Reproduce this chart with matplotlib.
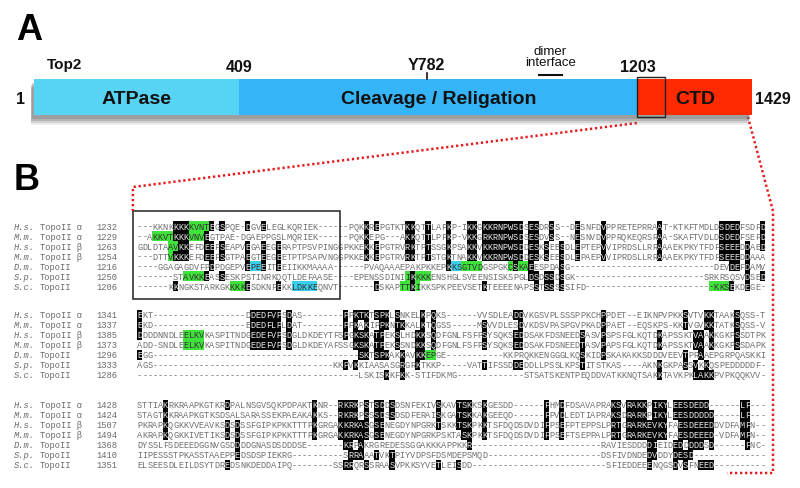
import matplotlib
matplotlib.use("Agg")
from collections import Counter

import matplotlib.pyplot as plt
from matplotlib.patches import Rectangle
from matplotlib.transforms import offset_copy

SANS = ["Liberation Sans", "DejaVu Sans"]
MONO = ["Liberation Mono", "DejaVu Sans Mono"]

# ---- Panel A: S.c. Top2 domain map ----
PROTEIN_LEN = 1429
DOMAIN_NAMES = ["ATPase", "Cleavage / Religation", "CTD"]
DOMAIN_START = [1, 409, 1203]
DOMAIN_END = [409, 1203, 1429]
DOMAIN_COLORS = ["#57d3f3", "#35b5f7", "#ff2a00"]
BOUNDARY_LABELS = [409, 1203]
SITE_NAME, SITE_POS = "Y782", 782
DIMER_INTERFACE = (1005, 1051)
ZOOM_REGION = (1200, 1255)

# ---- Panel B: CTD alignment ----
SPECIES = ["H.s.", "M.m.", "H.s.", "M.m.", "D.m.", "S.p.", "S.c."]
PROTEINS = ["TopoII α", "TopoII α", "TopoII β", "TopoII β", "TopoII", "TopoII", "TopoII"]
START_1 = [1232, 1229, 1263, 1254, 1216, 1250, 1206]
START_2 = [1341, 1337, 1385, 1373, 1296, 1333, 1286]
START_3 = [1428, 1424, 1507, 1494, 1368, 1410, 1351]

SEQ_1 = [
    "---KKNKKKKKVNTEGSPQE-DGVELEGLKQRIEK------PQKKREPGTKTKKQTTLAFKP-IKKGKKRNPWSDSESDRSS--DESNFDVPPRETEPRRAAT-KTKFTMDLDSDEDFSDFD",
    "--AKKVTKKKVNVEGTPAE-DGAEPPGSLMQRIEK" + "------" + "PQKKEPG---AKKQTT" + "LPFKP" + "-VKKGRKRNPWSDSESDVSS"
    + "--NESNVDVPPRQKEQRSRAA" + "-SKAFTVDLDSDEDFSEFD",
    "GDLDTAAVKKEFDEEFSEAPVEGAEEGERAPTPSVPINGGP" + "KKEKKEPGTRVRKTPTSSGKPSAKKV" + "KKRNPWSD"
    + "DESKSEESDLEPTEPVVIPRDSLLRRAAAEKPKYTFDFSEEEDDAED",
    "---DTTVKKKEFDEEFSGTPAEGTEEGEETPTPSAPVNGGP" + "KKEKKEPGTRVRKTPTSTGKTNAKKV" + "KKRNPWSD"
    + "DESKSEESDLEPAEPVVIPRDSLLRRAAAEKPKYTFDFSEEEDDAAA",
    "----GGAGAGDVFPDPDGEPVEPEEITEEIIKKMAAAA---" + "---PVAQAAAEPAKPKKEPKKSGTVD" + "GSPGKCSKAEESPDASG"
    + "-" * 28 + "DEVDEFDAMV",
    "-------STAVKKEASSESKPSTINRKQQTLDEFAASE---" + "-EPENSSDINIIKKKKENSHGLSVEE" + "NSISKSPGLDSDSSDSGK"
    + "-" * 25 + "SRKRSQSVDSED",
    "------KKNGKSTARKGKKKKESDKNFEKKLDKKEQNVT--" + "-----DSKAPTTKIKKSPKPEEVSET" + "KTEEEENAPSSTSSSSSIFD"
    + "-" * 25 + "KKSEKDEGE-",
]
SEQ_2 = [
    "EKT" + "-" * 18 + "DDEDFVPSDAS" + "-" * 8 + "PPKTKTSPKLSNKELKPQKS" + "-" * 6 + "VVSDLEADD"
    + "VKGSVPLSSSPPKCHPPDET--EIKNPVPKKSVTVKKTAAKSQSS-T",
    "EKD" + "-" * 18 + "EDEDFLPLDAT" + "-" * 8 + "PPKAKIPPKNTKKALKTQGSS" + "-" * 5 + "MSVVDLESD"
    + "VKDSVPASPGVPKADPPAET--EQSKPS-KKTVGVKKTATKSQSS-V",
    "DDDDNNDLEELKVKASPITNDG" + "EDEFVPSDG" + "LDKDEYTFSPGKSKATPEKSLHDKKSQDFGNLFSFPSYSQKSED"
    + "DSAKFDSNEEDSASVPSPSFGLKQTDKAPSSKTVAAKKGKPSSDTPK",
    "ADD-SNDLEELKVKASPITNDG" + "EDEFVPSDG" + "LDKDEYAFSSGKSKATPEKSSNDKKSQDFGNLFSFPSYSQKSED"
    + "DSAKFDSNEEDTASVPAPSFGLKQTDKAPSSKTVAAKKGKPSSDAPK",
    "EGG" + "-" * 40 + "SKTSPKAKKAVKKEPGE" + "-" * 11 + "KKPRQKKENGGGLKQSKIDPSKAKAKKSDDDVEEVTPRAAEPGRPQASKKI",
    "AGS" + "-" * 35 + "KKPVKKIAASASGRGRKTKKP" + "-" * 5 + "VATTIFSSDDE"
    + "DDLLPSSLKPSTITSTKAS----AKNKGKPASSVKKQSPEDDDDDF",
    "-" * 43 + "LSKISKKFKK-STIFDKMG" + "-" * 13 + "STSATSKENTPEQDDVATKKNQTSAKKTAVKPKLAKKPVPKQQKVV",
]
SEQ_3 = [
    "STTIAKRKRAAPKGTKRDPALNSGVSQ" + "KPDPAKTKNR" + "--" + "RKRKPSTSDDSDSNFEKIVSKAVTSKKSKGESDD" + "-" * 6
    + "FHMDFDSAVAPRAKSVRAKKPIKYLEESDEDD" + "-" * 6 + "LF--",
    "STAGTKKRAAPKGTKSDSALSARASSE" + "KPAEAKAKKS" + "--" + "RKRKPSSSDSSDSDFERAISKGATSKKAKGEEQD" + "-" * 6
    + "FPVDLEDTIAPRAKSDRARKPIKYLEESDDDDD" + "-" * 5 + "LF--",
    "PKRAPKQGKKVVEAVKSDSDSSFGIPK" + "PKKTTTPKGRGA"
    + "KKRKASGSENEGDYNPGRKTSKKTSKPKKTSFDQDSDVDIFPSEFPTEPPSLPRTGRARKEVKYFAESDEEEDDVDFAMFN-",
    "AKRAPKQGKKIVETIKSDSDSSFGIPK" + "PKKTTTPKGRGA"
    + "KKRKASGSENEGDYNPGRKPSKTASKPKKTSFDQDSDVDIFPSEFTSEPPALPRTGRARKEVKYFAESDEEED-VDFAMFN-",
    "DYSSLFSDEEEDGGNVGSDDDDGNASD" + "SDDDSE" + "-" * 7 + "KRPAKRGREDESSGGAKKKAPPKKR" + "-" * 25
    + "RAVIESDDDDIEIDEDDDDDSD" + "-" * 6 + "FNC",
    "IIPESSSTPKASSTAAEPPEDSDSPI" + "EKRG" + "-" * 10 + "SRRAAATVKTPIYVDPSFDSMDEPSMQD" + "-" * 22
    + "DSFIVDNDEDVDDYDESD",
    "ELSEESDLEILDSYTDREDSNKDEDDAIPQ" + "-" * 8 + "SSRRQRSSRAASVPKKSYVETLEISDD" + "-" * 26
    + "SFIEDDEEENQGSDVSFNEED",
]

# motif highlights: (row, first column, last column, kind)
MOTIFS_1 = [
    (0, 10, 13, "g"), (1, 3, 6, "g"), (1, 10, 13, "g"), (2, 6, 9, "g"), (3, 6, 9, "g"),
    (4, 21, 24, "c"), (4, 60, 62, "c"), (4, 63, 66, "g"), (4, 72, 75, "g"),
    (5, 9, 12, "g"), (5, 52, 56, "g"),
    (6, 18, 21, "g"), (6, 30, 34, "c"), (6, 51, 54, "g"), (6, 111, 114, "g"),
]
MOTIFS_2 = [(2, 9, 12, "g"), (3, 9, 12, "g"), (4, 54, 57, "g")]
MOTIFS_3 = []
BOX_COLS = (0, 39)

BLOCKS = [(SEQ_1, START_1, MOTIFS_1), (SEQ_2, START_2, MOTIFS_2), (SEQ_3, START_3, MOTIFS_3)]

# residue similarity groups used for the conservation shading
GROUPS = {c: g for g, members in enumerate(["DE", "KR", "ST", "ILVM", "FYW", "NQ", "A", "G", "P", "H", "C"])
          for c in members}
MOTIF_COLORS = {"g": "#3fe23a", "c": "#39d0f0"}

N_COLS = 122
X0, CW, ROW_H = 137.0, 5.15, 10.0
BLOCK_Y = [227, 316, 406]


def conserved(rows, min_count=4):
    cols = [Counter(GROUPS[r[c]] for r in rows if r[c] in GROUPS) for c in range(N_COLS)]
    return [[ch in GROUPS and cols[c][GROUPS[ch]] >= min_count for c, ch in enumerate(r)]
            for r in rows]


fig = plt.figure(figsize=(8, 4.89), dpi=100)
ax = fig.add_axes([0, 0, 1, 1])
ax.set_xlim(0, 800)
ax.set_ylim(489, 0)
ax.axis("off")

ax_a = fig.add_axes([34 / 800, 1 - 130 / 489, 718 / 800, 90 / 489])
ax_a.set_xlim(1, PROTEIN_LEN)
ax_a.set_ylim(130, 40)
ax_a.axis("off")

# === Panel A ===
# soft drop shadow under the whole bar
for dx, dy, a in [(-3, -10, 0.12), (-3, -8, 0.22), (-3, -6, 0.3), (-2, -4, 0.3)]:
    tr = offset_copy(ax_a.transData, fig=fig, x=dx, y=dy, units="dots")
    ax_a.add_patch(Rectangle((1, 80), PROTEIN_LEN - 1, 36, transform=tr, facecolor="#6e6e6e",
                             alpha=a, lw=0, clip_on=False, zorder=1))

widths = [e - s for s, e in zip(DOMAIN_START, DOMAIN_END)]
ax_a.barh(98, widths, left=DOMAIN_START, height=36, color=DOMAIN_COLORS, zorder=2, clip_on=False)
for name, s, e in zip(DOMAIN_NAMES, DOMAIN_START, DOMAIN_END):
    ax_a.text((s + e) / 2, 99, name, ha="center", va="center", fontsize=14, fontweight="bold",
              family=SANS, color="#111", zorder=4)

for b in BOUNDARY_LABELS:
    ax_a.text(b, 68, str(b), ha="center", va="center", fontsize=11.5, fontweight="bold",
              family=SANS, color="#111")
ax_a.annotate("1", xy=(1, 99), xytext=(-10, 0), textcoords="offset points", ha="center",
              va="center", fontsize=11.5, fontweight="bold", family=SANS, color="#111")
ax_a.annotate(str(PROTEIN_LEN), xy=(PROTEIN_LEN, 99), xytext=(2, 0), textcoords="offset points",
              ha="left", va="center", fontsize=11.5, fontweight="bold", family=SANS, color="#111")

ax_a.text(SITE_POS, 65, SITE_NAME, ha="center", va="center", fontsize=11.5, fontweight="bold",
          family=SANS, color="#111")
ax_a.plot([SITE_POS, SITE_POS], [74, 80], color="#111", lw=1.2, clip_on=False)
ax_a.text(sum(DIMER_INTERFACE) / 2, 57.5, "dimer\ninterface", ha="center", va="center",
          fontsize=9.5, family=SANS, color="#111", linespacing=0.95)
ax_a.plot(DIMER_INTERFACE, [76, 76], color="#111", lw=1.5, clip_on=False)

ax_a.add_patch(Rectangle((ZOOM_REGION[0], 78), ZOOM_REGION[1] - ZOOM_REGION[0], 40, fill=False,
                         edgecolor="#222", lw=1.0, zorder=5, clip_on=False))

ax.text(47, 65, "Top2", ha="left", va="center", fontsize=11, fontweight="bold", family=SANS,
        color="#111")
ax.text(16, 31, "A", ha="left", va="center", fontsize=26, fontweight="bold", family=SANS)
ax.text(14, 180, "B", ha="left", va="center", fontsize=26, fontweight="bold", family=SANS)


def a_to_px(x, y):
    return ax.transData.inverted().transform(ax_a.transData.transform((x, y)))


# red dotted zoom connectors
red = dict(color="#e8191a", lw=1.8, ls=(0, (0.9, 1.1)), zorder=6)
box_x0 = X0 + (BOX_COLS[0] - 0.8) * CW
box_x1 = X0 + (BOX_COLS[1] + 0.5) * CW
box_y0 = BLOCK_Y[0] - 15
box_y1 = BLOCK_Y[0] + 6 * ROW_H + 13
lx, ly = a_to_px(ZOOM_REGION[0], 124)
ax.plot([lx, box_x0, box_x0], [ly, 188, box_y0], **red)
rx, ry = a_to_px(PROTEIN_LEN - 8, 118)
ax.plot([rx, 773, 773, 727], [ry, 212, 474, 474], **red)

# === Panel B ===
for b, (seqs, starts, motifs) in enumerate(BLOCKS):
    rows = [s.ljust(N_COLS, "-")[:N_COLS] for s in seqs]
    mask = conserved(rows)
    motif_cells = {}
    for r, c0, c1, kind in motifs:
        for c in range(c0, c1 + 1):
            motif_cells[(r, c)] = kind
    for r, row in enumerate(rows):
        y = BLOCK_Y[b] + r * ROW_H
        ax.text(14, y, SPECIES[r], ha="left", va="center", fontsize=6.3, family=MONO,
                style="italic", color="#6a6a6a")
        ax.text(40, y, PROTEINS[r], ha="left", va="center", fontsize=6.3, family=MONO, color="#6a6a6a")
        ax.text(96, y, str(starts[r]), ha="left", va="center", fontsize=6.3, family=MONO,
                color="#6a6a6a")
        for c, ch in enumerate(row):
            x = X0 + c * CW
            fg = "#707070"
            if (r, c) in motif_cells:
                ax.add_patch(Rectangle((x, y - ROW_H / 2), CW, ROW_H, lw=0,
                                       facecolor=MOTIF_COLORS[motif_cells[(r, c)]], zorder=1))
                fg = "#333"
            if mask[r][c]:
                ax.add_patch(Rectangle((x, y - ROW_H / 2), CW, ROW_H, lw=0, facecolor="#050505",
                                       zorder=2))
                fg = "#e6e6e6"
            ax.text(x + CW / 2, y, ch, ha="center", va="center", fontsize=6.2, family=MONO,
                    color=fg, zorder=3)

ax.add_patch(Rectangle((box_x0, box_y0), box_x1 - box_x0, box_y1 - box_y0, fill=False,
                       edgecolor="#333", lw=1.2, zorder=4))

fig.savefig("out.png", dpi=100)
